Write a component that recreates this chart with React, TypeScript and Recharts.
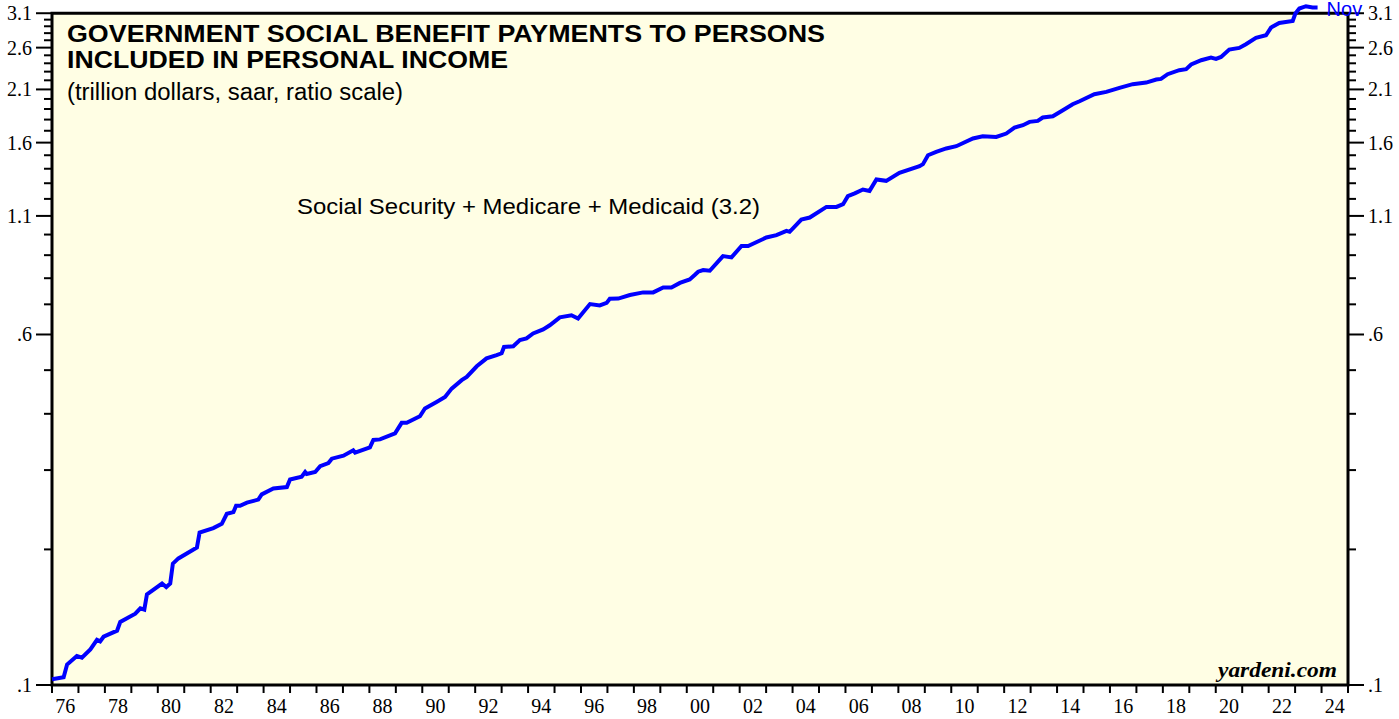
import React from "react";
import { LineChart, Line, XAxis, YAxis, ReferenceArea } from "recharts";

// decimal year of each reading, Jan 1976 .. Nov 2023
const dates = [
  1976.0, 1976.44, 1976.57, 1976.94, 1977.13, 1977.45, 1977.7, 1977.82, 1977.95, 1978.46,
  1978.58, 1979.15, 1979.34, 1979.49, 1979.59, 1980.16, 1980.32, 1980.47, 1980.57, 1980.78,
  1981.48, 1981.58, 1982.1, 1982.42, 1982.61, 1982.86, 1982.96, 1983.11, 1983.37, 1983.8,
  1983.93, 1984.37, 1984.88, 1985.0, 1985.44, 1985.57, 1985.63, 1985.95, 1986.14, 1986.45,
  1986.58, 1987.02, 1987.39, 1987.46, 1988.02, 1988.15, 1988.4, 1988.97, 1989.22, 1989.41,
  1989.91, 1990.1, 1990.54, 1990.86, 1991.11, 1991.49, 1991.68, 1992.06, 1992.43, 1992.81,
  1993.0, 1993.09, 1993.44, 1993.69, 1993.94, 1994.19, 1994.57, 1994.82, 1995.2, 1995.64,
  1995.89, 1996.34, 1996.71, 1996.97, 1997.09, 1997.41, 1997.85, 1998.35, 1998.73, 1999.11,
  1999.42, 1999.74, 2000.11, 2000.3, 2000.43, 2000.62, 2000.87, 2001.37, 2001.69, 2002.07,
  2002.32, 2003.01, 2003.39, 2003.77, 2003.89, 2004.33, 2004.65, 2005.28, 2005.66, 2005.91,
  2006.09, 2006.35, 2006.66, 2006.91, 2007.17, 2007.54, 2008.04, 2008.8, 2008.93, 2009.12,
  2009.43, 2009.81, 2010.19, 2010.82, 2011.19, 2011.7, 2012.08, 2012.39, 2012.71, 2012.96,
  2013.27, 2013.46, 2013.84, 2014.22, 2014.59, 2014.85, 2015.41, 2015.86, 2016.36, 2016.86,
  2017.37, 2017.75, 2017.93, 2018.18, 2018.62, 2018.88, 2019.07, 2019.45, 2019.82, 2020.01,
  2020.2, 2020.51, 2020.89, 2021.14, 2021.52, 2021.9, 2022.09, 2022.4, 2022.91, 2023.01,
  2023.16, 2023.41, 2023.66, 2023.85,
];

// trillion dollars, saar
const benefits = [
  0.103, 0.104, 0.111, 0.116, 0.115, 0.12, 0.126, 0.125, 0.128, 0.132,
  0.138, 0.144, 0.148, 0.147, 0.159, 0.168, 0.165, 0.168, 0.186, 0.191,
  0.202, 0.218, 0.223, 0.228, 0.24, 0.242, 0.25, 0.25, 0.254, 0.258,
  0.265, 0.273, 0.275, 0.286, 0.29, 0.297, 0.294, 0.297, 0.306, 0.311,
  0.318, 0.323, 0.332, 0.328, 0.337, 0.35, 0.351, 0.362, 0.382, 0.382,
  0.395, 0.411, 0.425, 0.436, 0.455, 0.475, 0.483, 0.51, 0.531, 0.54,
  0.545, 0.563, 0.565, 0.583, 0.588, 0.603, 0.616, 0.629, 0.655, 0.662,
  0.651, 0.701, 0.696, 0.705, 0.72, 0.721, 0.734, 0.744, 0.744, 0.763,
  0.763, 0.781, 0.795, 0.813, 0.827, 0.834, 0.831, 0.896, 0.89, 0.943,
  0.943, 0.985, 0.997, 1.019, 1.014, 1.08, 1.091, 1.152, 1.152, 1.168,
  1.217, 1.234, 1.259, 1.25, 1.325, 1.316, 1.371, 1.418, 1.433, 1.5,
  1.526, 1.553, 1.571, 1.634, 1.653, 1.647, 1.676, 1.728, 1.749, 1.779,
  1.788, 1.819, 1.831, 1.888, 1.947, 1.977, 2.049, 2.074, 2.116, 2.157,
  2.175, 2.209, 2.216, 2.27, 2.317, 2.329, 2.385, 2.438, 2.472, 2.454,
  2.479, 2.575, 2.596, 2.646, 2.733, 2.77, 2.881, 2.95, 2.98, 3.095,
  3.175, 3.213, 3.192, 3.192,
];

const lastLabel = "Nov";

const xTicks = [
  1976, 1977, 1978, 1979, 1980, 1981, 1982, 1983, 1984, 1985,
  1986, 1987, 1988, 1989, 1990, 1991, 1992, 1993, 1994, 1995,
  1996, 1997, 1998, 1999, 2000, 2001, 2002, 2003, 2004, 2005,
  2006, 2007, 2008, 2009, 2010, 2011, 2012, 2013, 2014, 2015,
  2016, 2017, 2018, 2019, 2020, 2021, 2022, 2023, 2024, 2025,
];

const yTicks = [
  0.1, 0.2, 0.3, 0.4, 0.5, 0.6, 0.7, 0.8, 0.9, 1.0,
  1.1, 1.2, 1.3, 1.4, 1.5, 1.6, 1.7, 1.8, 1.9, 2.0,
  2.1, 2.2, 2.3, 2.4, 2.5, 2.6, 2.7, 2.8, 2.9, 3.0, 3.1,
];
const yLabeled = [0.1, 0.6, 1.1, 1.6, 2.1, 2.6, 3.1];

const data = dates.map((t, i) => ({ t, v: benefits[i] }));

const SERIF = "'Liberation Serif', 'Times New Roman', serif";
const SANS = "'Liberation Sans', Arial, sans-serif";
const HALF_YEAR = 1296 / 49 / 2;

function fmtY(v: number) {
  const s = v.toFixed(1);
  return s.startsWith("0") ? s.slice(1) : s;
}

function XTick(props: any) {
  const { x, y, payload } = props;
  const yr = payload.value;
  if (yr % 2 !== 0 || yr >= 2025) return <g />;
  return (
    <text x={x + HALF_YEAR} y={y + 20} textAnchor="middle" fontFamily={SERIF} fontSize={20} fill="#000">
      {String(yr).slice(2)}
    </text>
  );
}

// the axis draws the short (minor) tick; majors get a longer mark and a label
function YTick(props: any) {
  const { x, y, payload, orientation } = props;
  const major = yLabeled.some((m) => Math.abs(m - payload.value) < 1e-6);
  const dir = orientation === "right" ? 1 : -1;
  if (!major) return <g />;
  return (
    <g>
      <path d={`M${x},${y}h${dir * 8}`} stroke="#000" strokeWidth={2} fill="none" />
      <text
        x={x + dir * 12}
        y={y + 7}
        textAnchor={dir < 0 ? "end" : "start"}
        fontFamily={SERIF}
        fontSize={20}
        fill="#000"
      >
        {fmtY(payload.value)}
      </text>
    </g>
  );
}

export default function App() {
  return (
    <div style={{ position: "absolute", left: 0, top: 0, width: 1399, height: 719, background: "#fff" }}>
      <LineChart width={1399} height={719} data={data} margin={{ top: 1, right: 0, bottom: 0, left: 0 }}>
        <XAxis
          dataKey="t"
          type="number"
          domain={[1976, 2025]}
          ticks={xTicks}
          interval={0}
          height={34}
          axisLine={false}
          tickSize={8}
          tickMargin={0}
          stroke="#000"
          tickLine={{ stroke: "#000", strokeWidth: 2 }}
          tick={<XTick />}
        />
        <YAxis
          yAxisId="left"
          type="number"
          scale="log"
          domain={[0.1, 3.3]}
          ticks={yTicks}
          interval={0}
          width={52}
          axisLine={false}
          stroke="#000"
          tickLine={{ stroke: "#000", strokeWidth: 2 }}
          tickSize={8}
          tickMargin={0}
          tick={<YTick orientation="left" />}
        />
        <YAxis
          yAxisId="right"
          orientation="right"
          type="number"
          scale="log"
          domain={[0.1, 3.3]}
          allowDataOverflow
          ticks={yTicks}
          interval={0}
          width={51}
          axisLine={false}
          stroke="#000"
          tickLine={{ stroke: "#000", strokeWidth: 2 }}
          tickSize={8}
          tickMargin={0}
          tick={<YTick orientation="right" />}
        />
        <ReferenceArea
          yAxisId="left"
          x1={1976}
          x2={2025}
          y1={0.1}
          y2={3.1}
          fill="#FFFEE4"
          fillOpacity={1}
          stroke="#000"
          strokeWidth={3}
        />
        <Line
          yAxisId="left"
          type="linear"
          dataKey="v"
          stroke="#0000FF"
          strokeWidth={4}
          dot={false}
          isAnimationActive={false}
          label={(p: any) =>
            p.index === data.length - 1 ? (
              <text key="last" x={p.x + 9} y={p.y + 8} fill="#0000FF" fontFamily={SANS} fontSize={20}>
                {lastLabel}
              </text>
            ) : null
          }
        />
      </LineChart>
      <svg
        width={1399}
        height={719}
        style={{ position: "absolute", left: 0, top: 0, pointerEvents: "none" }}
      >
        <text x={67} y={41.5} fontFamily={SANS} fontWeight={700} fontSize={24} textLength={758} lengthAdjust="spacingAndGlyphs">
          GOVERNMENT SOCIAL BENEFIT PAYMENTS TO PERSONS
        </text>
        <text x={67} y={68.3} fontFamily={SANS} fontWeight={700} fontSize={24} textLength={441} lengthAdjust="spacingAndGlyphs">
          INCLUDED IN PERSONAL INCOME
        </text>
        <text x={67} y={100} fontFamily={SANS} fontSize={23} textLength={336} lengthAdjust="spacingAndGlyphs">
          (trillion dollars, saar, ratio scale)
        </text>
        <text x={297} y={214} fontFamily={SANS} fontSize={22} textLength={463} lengthAdjust="spacingAndGlyphs">
          Social Security + Medicare + Medicaid (3.2)
        </text>
        <text
          x={1218}
          y={677}
          fontFamily={SERIF}
          fontWeight={700}
          fontStyle="italic"
          fontSize={20}
          textLength={119}
          lengthAdjust="spacingAndGlyphs"
        >
          yardeni.com
        </text>
      </svg>
    </div>
  );
}
